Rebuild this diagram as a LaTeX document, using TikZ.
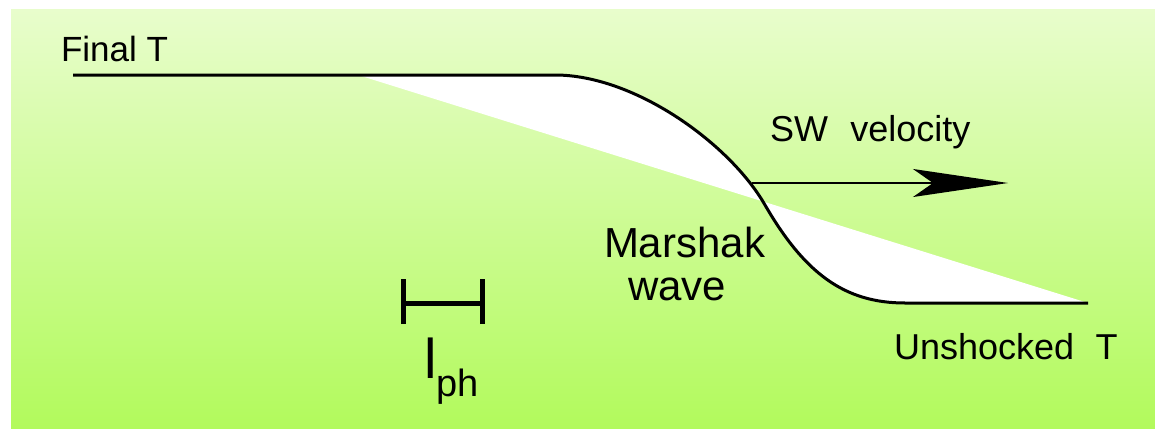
\documentclass[tikz,border=0pt]{standalone}
\usepackage{fontspec}
\setmainfont{Liberation Sans}
\usetikzlibrary{arrows.meta}
\definecolor{bgtop}{RGB}{232,253,204}
\definecolor{bgmid}{RGB}{210,252,156}
\definecolor{bgbot}{RGB}{178,250,92}
\tikzset{
  lbl/.style={anchor=base west, inner sep=0pt, outer sep=0pt, text=black},
  wave/.style={line width=3pt, black, line join=round},
  bar/.style={line width=5pt, black},
}
\begin{document}
\begin{tikzpicture}[x=1pt,y=-1pt]
\useasboundingbox (0,0) rectangle (1155,428);
\fill[white] (0,0) rectangle (1155,428);
\shade[top color=bgtop, middle color=bgmid, bottom color=bgbot] (11,10) rectangle (1155,428);
% key points
\coordinate (lstart) at (73,75);
\coordinate (dstart) at (358,75);
\coordinate (cstart) at (555,75);
\coordinate (infl) at (765,205);
\coordinate (cend) at (905,303);
\coordinate (lend) at (1088,303);
% white region between profile and diagonal
\fill[white] (dstart) -- (cstart) .. controls (635,75) and (730,144) .. (infl)
  .. controls (805,274) and (845,303) .. (cend) -- (lend) -- cycle;
% temperature profile
\draw[wave] (lstart) -- (cstart) .. controls (635,75) and (730,144) .. (infl)
  .. controls (805,274) and (845,303) .. (cend) -- (lend);
% shock velocity arrow
\coordinate (arrs) at (752,183);
\coordinate (arre) at (1008,183);
\draw[line width=2pt, -{Stealth[length=95pt,width=28pt,inset=20pt]}] (arrs) -- (arre);
% l_ph bracket
\coordinate (bl) at (403,303);
\coordinate (br) at (482,303);
\draw[bar] ([yshift=-21pt]bl) -- ([yshift=24pt]bl);
\draw[bar] ([yshift=-21pt]br) -- ([yshift=24pt]br);
\draw[bar] (bl) -- (br);
% labels
\node[lbl] (finalT) at (61,62) {\fontsize{35pt}{42pt}\selectfont Final T};
\node[lbl] (swv) at (770,141) {\fontsize{36pt}{42pt}\selectfont SW\hspace{0.62em}velocity};
\node[lbl] (marshak) at (604,257) {\fontsize{42pt}{44pt}\selectfont Marshak};
\node[lbl] (wave) at (628,300) {\fontsize{42pt}{44pt}\selectfont wave};
\node[lbl] (unsh) at (894,359) {\fontsize{36pt}{42pt}\selectfont Unshocked\hspace{0.6em}T};
\node[lbl] (lph) at (424,378) {\fontsize{56pt}{60pt}\selectfont l\raisebox{-18pt}{\fontsize{38pt}{40pt}\selectfont ph}};
\end{tikzpicture}
\end{document}
